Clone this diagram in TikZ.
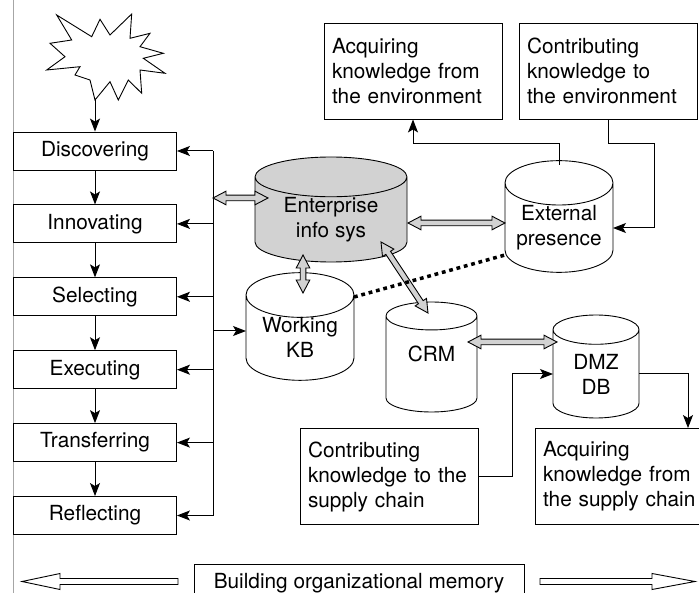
\documentclass[tikz,border=0pt]{standalone}
\usepackage{fontspec}
\setmainfont{TeX Gyre Heros}
\usetikzlibrary{shapes.geometric,arrows.meta,positioning,calc}

\begin{document}
\begin{tikzpicture}[
  x=1pt, y=1pt,
  node distance=34pt and 20pt,
  every node/.style={font=\fontsize{20.8}{25}\selectfont},
  phase/.style={rectangle, draw=black, line width=0.9pt, minimum width=163pt,
                minimum height=38pt, inner sep=0pt},
  note/.style={rectangle, draw=black, line width=0.9pt, align=left,
               text width=162pt, inner xsep=8pt, minimum height=96pt},
  db/.style={cylinder, shape border rotate=90, draw=black, line width=0.9pt,
             aspect=#1, inner sep=0pt, align=center, anchor=shape center},
  arrow/.style={-{Stealth[length=13pt, width=10pt, inset=3pt]}, line width=1pt},
  dbl/.style={draw=black, line width=0.9pt, fill=gray!35},
  twoway/.style 2 args={insert path={
    (#1) -- ($(#1)!13pt!(#2)!6.8pt!90:(#2)$) -- ($(#1)!13pt!(#2)!2.8pt!90:(#2)$)
    -- ($(#2)!13pt!(#1)!2.8pt!-90:(#1)$) -- ($(#2)!13pt!(#1)!6.8pt!-90:(#1)$)
    -- (#2) -- ($(#2)!13pt!(#1)!6.8pt!90:(#1)$) -- ($(#2)!13pt!(#1)!2.8pt!90:(#1)$)
    -- ($(#1)!13pt!(#2)!2.8pt!-90:(#2)$) -- ($(#1)!13pt!(#2)!6.8pt!-90:(#2)$) -- cycle}},
  dotline/.style={line width=3.5pt, dash pattern=on 3.8pt off 3.8pt}
]
  \useasboundingbox (0,0) rectangle (699,-593);
  \clip (0,0) rectangle (699,-593);

  % frame line on the left
  \draw[gray!70, line width=0.9pt] (13,0) -- (13,-593);

  % the burst
  \draw[line width=0.9pt, fill=white] (56.7,-15) -- (91.7,-36.7) -- (100,-19.3) -- (110,-35)
    -- (131.7,-14) -- (130,-38.3) -- (150,-33.3) -- (140,-46.7) -- (163.3,-53.3)
    -- (143.3,-58.3) -- (165,-73.3) -- (140,-70) -- (141.7,-93.3) -- (128.3,-80)
    -- (118.3,-100) -- (110,-81.7) -- (95,-100) -- (90,-80) -- (75,-75) -- (80,-66.7)
    -- (46.7,-70) -- (65,-56.7) -- (50,-43.3) -- (71.7,-40) -- cycle;
  \coordinate (burst) at (95,-100);

  % process column
  \node[phase] at (95,-151)     (disc)  {Discovering};
  \node[phase, below=of disc]   (innov) {Innovating};
  \node[phase, below=of innov]  (sel)   {Selecting};
  \node[phase, below=of sel]    (exec)  {Executing};
  \node[phase, below=of exec]   (trans) {Transferring};
  \node[phase, below=of trans]  (refl)  {Reflecting};

  % knowledge stores
  \node[db=0.42, fill=gray!35, minimum width=152pt, minimum height=105pt]
    at (331,-209.5) (ent) {Enterprise\\info sys};
  \node[db=0.59, minimum width=108pt, minimum height=107pt] at (300,-326.5) (kb)  {Working\\KB};
  \node[db=0.59, minimum width=91pt,  minimum height=110pt] at (431.5,-357) (crm) {\raisebox{20pt}{CRM}};
  \node[db=0.65, minimum width=86pt,  minimum height=103pt] at (596,-366.5) (dmz) {DMZ\\DB};
  \node[db=0.52, minimum width=108pt, minimum height=103pt] at (559,-216.5) (ext) {External\\presence};

  % outside world
  \node[note] at (413,-71)    (acqenv)  {Acquiring\\knowledge from\\the environment};
  \node[note] at (608,-71)    (conenv)  {Contributing\\knowledge to\\the environment};
  \node[note] at (389,-476.5) (supcon)  {Contributing\\knowledge to the\\supply chain};
  \node[note] at (624,-476.5) (supacq)  {Acquiring\\knowledge from\\the supply chain};

  \node[draw=black, line width=0.9pt, minimum width=330pt, minimum height=38pt]
    at (359,-583) (memory) {Building organizational memory};

  % connector ends
  \coordinate (bus)  at (213,0);
  \coordinate (entl) at ([shift={(-63,11.5)}]ent.shape center);
  \coordinate (entr) at ([shift={(77,-13.5)}]ent.shape center);
  \coordinate (entb) at ([shift={(-28,-45.5)}]ent.shape center);
  \coordinate (entd) at ([shift={(50,-32.5)}]ent.shape center);
  \coordinate (kbt)  at ([shift={(3,33.5)}]kb.shape center);
  \coordinate (kbl)  at ([shift={(-54,-4.5)}]kb.shape center);
  \coordinate (kbr)  at ([shift={(54,29.5)}]kb.shape center);
  \coordinate (crmt) at ([shift={(-3.5,44)}]crm.shape center);
  \coordinate (crmr) at ([shift={(36.5,15)}]crm.shape center);
  \coordinate (dmzt) at ([shift={(-39,24.5)}]dmz.shape center);
  \coordinate (dmzl) at ([shift={(-43,-7.5)}]dmz.shape center);
  \coordinate (dmzr) at ([shift={(43,-7.5)}]dmz.shape center);
  \coordinate (extl) at ([shift={(-54,-6.5)}]ext.shape center);
  \coordinate (extd) at ([shift={(-54,-38.5)}]ext.shape center);
  \coordinate (extt) at ([shift={(0,51.5)}]ext.shape center);
  \coordinate (extr) at ([shift={(54,-11.5)}]ext.shape center);

  % process flow
  \draw[arrow] (burst) -- (disc);
  \foreach \a/\b in {disc/innov, innov/sel, sel/exec, exec/trans, trans/refl}
    \draw[arrow] (\a) -- (\b);
  \draw[line width=1pt] (disc.east -| bus) -- (refl.east -| bus);
  \foreach \n in {disc, innov, sel, exec, trans, refl}
    \draw[arrow] (\n.east -| bus) -- (\n.east);
  \draw[arrow] (bus |- kbl) -- (kbl);

  % two-way links
  \draw[dbl, twoway={bus |- entl}{entl}];
  \draw[dbl, twoway={entr}{extl}];
  \draw[dbl, twoway={entb}{kbt}];
  \draw[dbl, twoway={entd}{crmt}];
  \draw[dbl, twoway={crmr}{dmzt}];
  \draw[dotline] (kbr) -- (extd);

  % environment and supply chain
  \draw[arrow] (extt) -- ++(0,21) -| (acqenv.south);
  \draw[arrow] (conenv.south) |- ++(46,-24) |- (extr);
  \draw[arrow] (supcon.east) -- ++(34,0) |- (dmzl);
  \draw[arrow] (dmzr) -| ([xshift=64pt]supacq.north);

  % memory arrows
  \draw[line width=0.9pt] (178,-578.5) -- (60,-578.5) -- (60,-573.5) -- (22,-581.5)
    -- (60,-589.5) -- (60,-584.5) -- (178,-584.5) -- cycle;
  \draw[line width=0.9pt] (540,-578.5) -- (652,-578.5) -- (652,-573.5) -- (695,-581.5)
    -- (652,-589.5) -- (652,-584.5) -- (540,-584.5) -- cycle;
\end{tikzpicture}
\end{document}
